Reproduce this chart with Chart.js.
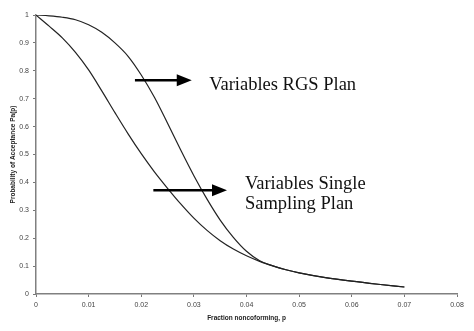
<!DOCTYPE html>
<html>
<head>
<meta charset="utf-8">
<script src="https://cdn.jsdelivr.net/npm/chart.js@4/dist/chart.umd.min.js"></script>
<style>
  html, body { margin: 0; padding: 0; background: #ffffff; }
  #wrap { width: 474px; height: 331px; position: relative; }
</style>
</head>
<body>
<div id="wrap"><canvas id="oc"></canvas></div>
<script>
// Fraction nonconforming (p) and probability of acceptance Pa(p)
const pSingle  = [0, 0.0025, 0.005, 0.0075, 0.01, 0.0125, 0.015, 0.0175, 0.02, 0.0225, 0.025, 0.0275, 0.03, 0.0325, 0.035, 0.0375, 0.04, 0.0425, 0.045, 0.0475, 0.05, 0.055, 0.06, 0.065, 0.07];
const paSingle = [1.00, 0.96, 0.918, 0.866, 0.803, 0.728, 0.65, 0.574, 0.503, 0.438, 0.379, 0.323, 0.272, 0.228, 0.191, 0.161, 0.137, 0.117, 0.101, 0.087, 0.076, 0.059, 0.046, 0.035, 0.025];

const pRgs  = [0, 0.0025, 0.005, 0.0075, 0.01, 0.0125, 0.015, 0.0175, 0.02, 0.0225, 0.025, 0.0275, 0.03, 0.0325, 0.035, 0.0375, 0.04, 0.0425, 0.045, 0.0475, 0.05, 0.055, 0.06, 0.065, 0.07];
const paRgs = [1.00, 0.997, 0.992, 0.983, 0.965, 0.938, 0.90, 0.852, 0.785, 0.705, 0.612, 0.516, 0.424, 0.34, 0.265, 0.203, 0.153, 0.119, 0.101, 0.087, 0.076, 0.059, 0.046, 0.035, 0.025];

const xTicks = [0, 0.01, 0.02, 0.03, 0.04, 0.05, 0.06, 0.07, 0.08];
const yTicks = [0, 0.1, 0.2, 0.3, 0.4, 0.5, 0.6, 0.7, 0.8, 0.9, 1];

const seriesNames = ['Variables RGS Plan', 'Variables Single Sampling Plan'];

const toPoints = (xs, ys) => xs.map((x, i) => ({ x: x, y: ys[i] }));
const fmt = v => String(Number(v.toFixed(2)));

// Callout labels with arrows, placed in data coordinates
const callouts = [
  { lines: ['Variables RGS Plan'], textAt: [0.0329, 0.730], arrowFrom: [0.0188, 0.766], arrowTo: [0.0296, 0.766] },
  { lines: ['Variables Single', 'Sampling Plan'], textAt: [0.0397, 0.378], arrowFrom: [0.0223, 0.372], arrowTo: [0.0363, 0.372] }
];

const calloutPlugin = {
  id: 'callouts',
  afterDatasetsDraw(chart) {
    const { ctx, scales: { x, y } } = chart;
    ctx.save();
    callouts.forEach(c => {
      const x0 = x.getPixelForValue(c.arrowFrom[0]);
      const x1 = x.getPixelForValue(c.arrowTo[0]);
      const ya = y.getPixelForValue(c.arrowFrom[1]);
      const head = 15;
      ctx.strokeStyle = '#000';
      ctx.fillStyle = '#000';
      ctx.lineWidth = 2.5;
      ctx.beginPath();
      ctx.moveTo(x0, ya);
      ctx.lineTo(x1 - head + 1, ya);
      ctx.stroke();
      ctx.beginPath();
      ctx.moveTo(x1, ya);
      ctx.lineTo(x1 - head, ya - 6);
      ctx.lineTo(x1 - head, ya + 6);
      ctx.closePath();
      ctx.fill();

      ctx.font = '18.5px "Liberation Serif", "Times New Roman", serif';
      ctx.textBaseline = 'alphabetic';
      ctx.textAlign = 'left';
      ctx.fillStyle = '#111';
      const tx = x.getPixelForValue(c.textAt[0]);
      const ty = y.getPixelForValue(c.textAt[1]);
      c.lines.forEach((t, i) => ctx.fillText(t, tx, ty + i * 20));
    });
    ctx.restore();
  }
};

const lineStyle = {
  borderColor: '#222222',
  borderWidth: 1.2,
  pointRadius: 0,
  pointHoverRadius: 0,
  fill: false,
  cubicInterpolationMode: 'monotone'
};

new Chart(document.getElementById('oc'), {
  type: 'line',
  data: {
    datasets: [
      Object.assign({ label: seriesNames[0], data: toPoints(pRgs, paRgs) }, lineStyle),
      Object.assign({ label: seriesNames[1], data: toPoints(pSingle, paSingle) }, lineStyle)
    ]
  },
  options: {
    responsive: true,
    maintainAspectRatio: false,
    animation: false,
    events: [],
    layout: { padding: { top: 15, right: 17, left: 0, bottom: 0 } },
    plugins: { legend: { display: false }, tooltip: { enabled: false } },
    scales: {
      x: {
        type: 'linear',
        min: 0, max: 0.08,
        afterFit: s => { s.height = 37; },
        afterBuildTicks: s => { s.ticks = xTicks.map(v => ({ value: v })); },
        ticks: {
          callback: v => fmt(v),
          font: { family: '"Liberation Sans", Arial, sans-serif', size: 7 },
          color: '#444',
          padding: 4,
          maxRotation: 0,
          autoSkip: false
        },
        grid: { drawOnChartArea: false, drawTicks: true, tickLength: 3, color: '#777', lineWidth: 1 },
        border: { display: true, color: '#808080', width: 1.5 },
        title: {
          display: true,
          text: 'Fraction noncoforming, p',
          font: { family: '"Liberation Sans", Arial, sans-serif', size: 6.5, weight: 'bold' },
          color: '#222',
          padding: { top: 0, bottom: 9 }
        }
      },
      y: {
        type: 'linear',
        min: 0, max: 1,
        afterFit: s => { s.width = 36; },
        afterBuildTicks: s => { s.ticks = yTicks.map(v => ({ value: v })); },
        ticks: {
          callback: v => fmt(v),
          font: { family: '"Liberation Sans", Arial, sans-serif', size: 7 },
          color: '#444',
          padding: 4,
          autoSkip: false
        },
        grid: { drawOnChartArea: false, drawTicks: true, tickLength: 3, color: '#777', lineWidth: 1 },
        border: { display: true, color: '#808080', width: 1.5 },
        title: {
          display: true,
          text: 'Probability of Acceptance Pa(p)',
          font: { family: '"Liberation Sans", Arial, sans-serif', size: 6.5, weight: 'bold' },
          color: '#222',
          padding: { top: 9, bottom: 0 }
        }
      }
    }
  },
  plugins: [calloutPlugin]
});
</script>
</body>
</html>
